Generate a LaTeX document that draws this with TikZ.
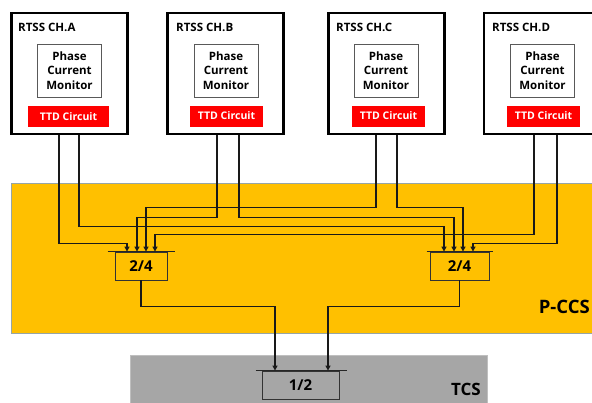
\documentclass[tikz,border=0pt]{standalone}
\usepackage{fontspec}
\setmainfont{Open Sans}
\usetikzlibrary{arrows.meta,calc}
\definecolor{pccsyellow}{HTML}{FFC000}
\definecolor{pccsborder}{RGB}{150,165,165}
\definecolor{tcsgray}{HTML}{A6A6A6}
\definecolor{tcsborder}{HTML}{BFBFBF}
\definecolor{ttdred}{HTML}{FF0000}
\begin{document}
\begin{tikzpicture}[x=1pt,y=-1pt,
  chbox/.style={draw=black, line width=2.6pt, fill=white, minimum width=116pt, minimum height=121pt, inner sep=0pt},
  pcm/.style={draw=black!65, line width=0.8pt, fill=white, minimum width=64pt, minimum height=53pt, align=center, font=\bfseries\fontsize{11.5}{14.5}\selectfont, inner sep=0pt},
  ttd/.style={fill=ttdred, text=white, font=\bfseries\fontsize{10.5}{12}\selectfont, minimum width=73pt, minimum height=21pt, inner sep=0pt},
  ttl/.style={font=\bfseries\fontsize{11.5}{13}\selectfont, anchor=west, inner sep=0pt},
  vote/.style={draw=black!80, line width=0.9pt, minimum height=28pt, font=\bfseries\fontsize{15}{17}\selectfont, inner sep=0pt},
  bar/.style={draw=black!85, line width=1pt},
  wire/.style={line width=1.2pt, draw=black!90},
  arr/.style={wire, -{Triangle[length=5pt,width=5pt]}},
  band/.style={line width=0.8pt},
  bandlabel/.style={font=\bfseries\fontsize{18.5}{21}\selectfont, anchor=east, inner sep=0pt}
]
\clip (0,0) rectangle (592,402);
\useasboundingbox (0,0) rectangle (592,402);

% bands
\draw[band, fill=pccsyellow, draw=pccsborder] (11,183) rectangle (600,333);
\draw[band, fill=tcsgray, draw=tcsborder] (130,355) rectangle (487,410);
\node[bandlabel] (pccs) at (590,307) {P-CCS};
\node[bandlabel, font=\bfseries\fontsize{17}{19}\selectfont] (tcs) at (481,389) {TCS};

% channel boxes
\node[chbox] (chA) at (69.5,73.5) {};
\node[chbox] (chB) at (225.5,73.5) {};
\node[chbox] (chC) at (386.5,73.5) {};
\node[chbox] (chD) at (542,73.5) {};

\node[ttl] (tA) at (18,27) {RTSS CH.A};
\node[ttl] (tB) at (176,27) {RTSS CH.B};
\node[ttl] (tC) at (336,27) {RTSS CH.C};
\node[ttl] (tD) at (492,27) {RTSS CH.D};

\node[pcm] (pA) at (69.5,70.5) {Phase\\Current\\Monitor};
\node[pcm] (pB) at (226,70.5) {Phase\\Current\\Monitor};
\node[pcm] (pC) at (386,70.5) {Phase\\Current\\Monitor};
\node[pcm] (pD) at (542.5,70.5) {Phase\\Current\\Monitor};

\node[ttd, minimum width=81pt] (rA) at (68.5,116.5) {TTD Circuit};
\node[ttd] (rB) at (226.5,116) {TTD Circuit};
\node[ttd] (rC) at (388.5,116) {TTD Circuit};
\node[ttd] (rD) at (543.5,116) {TTD Circuit};

% voters
\node[vote, minimum width=52pt] (vL) at (141,266) {2/4};
\node[vote, minimum width=59pt] (vR) at (459.5,266) {2/4};
\node[vote, minimum width=77pt] (vT) at (300.5,385) {1/2};
\draw[bar] ($(vL.north west)+(-7,0)$) -- ($(vL.north east)+(8,0)$);
\draw[bar] ($(vR.north west)+(-3,0)$) -- ($(vR.north east)+(4,0)$);
\draw[bar] ($(vT.north west)+(-6,0)$) -- ($(vT.north east)+(8,0)$);

% inputs to voters
\draw[arr] ($(chA.south)+(-10.5,0)$) -- ++(0,108) -| ($(vL.north)+(-14,0)$);
\draw[arr] ($(chA.south)+(9.5,0)$) -- ++(0,91) -| ($(vR.north)+(-15.5,0)$);
\draw[arr] ($(chB.south)+(-8.5,0)$) -- ++(0,82) -| ($(vL.north)+(-4,0)$);
\draw[arr] ($(chB.south)+(13.5,0)$) -- ++(0,82) -| ($(vR.north)+(-5.5,0)$);
\draw[arr] ($(chC.south)+(-10.5,0)$) -- ++(0,72) -| ($(vL.north)+(5,0)$);
\draw[arr] ($(chC.south)+(10.5,0)$) -- ++(0,72) -| ($(vR.north)+(3.5,0)$);
\draw[arr] ($(chD.south)+(-8,0)$) -- ++(0,99) -| ($(vL.north)+(14,0)$);
\draw[arr] ($(chD.south)+(15,0)$) -- ++(0,108) -| ($(vR.north)+(13.5,0)$);

% outputs to TCS
\draw[arr] (vL.south) -- ++(0,26) -| ($(vT.north)+(-25.5,0)$);
\draw[arr] (vR.south) -- ++(0,26) -| ($(vT.north)+(27.5,0)$);
\end{tikzpicture}
\end{document}
